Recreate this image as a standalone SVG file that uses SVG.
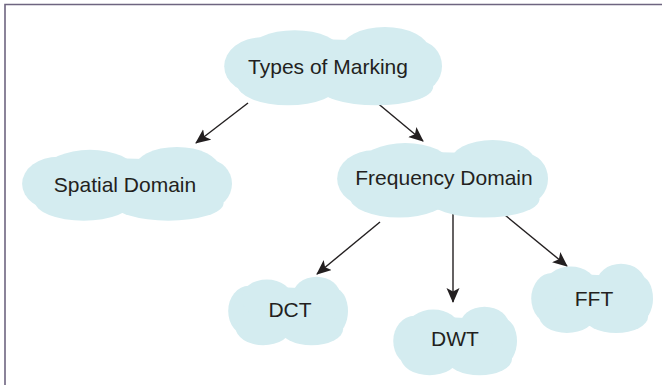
<svg xmlns="http://www.w3.org/2000/svg" xmlns:xlink="http://www.w3.org/1999/xlink" width="662" height="385" viewBox="0 0 662 385">
<style>
.cloud{fill:#d4ecf0}
.lbl{font-family:"Liberation Sans",Arial,sans-serif;font-size:21px;fill:#231f20;text-anchor:middle}
.conn{stroke:#231f20;stroke-width:1.4;fill:none}
.frame{stroke:#6e6580;stroke-width:1.6;fill:none}
</style>
<defs>
<g id="cloudShape">
<ellipse cx="100" cy="42" rx="92" ry="28"/>
<ellipse cx="36" cy="40" rx="34" ry="28"/>
<ellipse cx="66" cy="26" rx="42" ry="21"/>
<ellipse cx="148" cy="24" rx="40" ry="22"/>
<ellipse cx="178" cy="40" rx="22" ry="25"/>
<ellipse cx="60" cy="58" rx="46" ry="20"/>
<ellipse cx="140" cy="60" rx="52" ry="18"/>
</g>
<marker id="arr" markerUnits="userSpaceOnUse" markerWidth="16" markerHeight="14" refX="14" refY="6.5" orient="auto">
<path d="M0,0 L15,6.5 L0,13 L3.5,6.5 z" fill="#231f20"/>
</marker>
</defs>
<path class="frame" d="M5,385 L5,4.5 L662,4.5"/>
<g id="connectors">
<line class="conn" x1="248" y1="103" x2="196" y2="143" marker-end="url(#arr)"/>
<line class="conn" x1="375" y1="101" x2="423" y2="141" marker-end="url(#arr)"/>
<line class="conn" x1="380" y1="222" x2="317" y2="274" marker-end="url(#arr)"/>
<line class="conn" x1="453" y1="214" x2="453" y2="302" marker-end="url(#arr)"/>
<line class="conn" x1="500" y1="211" x2="567" y2="266" marker-end="url(#arr)"/>
</g>
<g id="types">
<use class="cloud" xlink:href="#cloudShape" href="#cloudShape" transform="translate(222,25) scale(1.1,1.03)"/>
<text class="lbl" x="328" y="74">Types of Marking</text>
</g>
<g id="spatial">
<use class="cloud" xlink:href="#cloudShape" href="#cloudShape" transform="translate(20,145) scale(1.06,0.97)"/>
<text class="lbl" x="125" y="192">Spatial Domain</text>
</g>
<g id="frequency">
<use class="cloud" xlink:href="#cloudShape" href="#cloudShape" transform="translate(335,138) scale(1.065,1.02)"/>
<text class="lbl" x="444" y="185">Frequency Domain</text>
</g>
<g id="dct">
<use class="cloud" xlink:href="#cloudShape" href="#cloudShape" transform="translate(227,275) scale(0.605,0.9)"/>
<text class="lbl" x="290" y="317">DCT</text>
</g>
<g id="dwt">
<use class="cloud" xlink:href="#cloudShape" href="#cloudShape" transform="translate(392,305) scale(0.625,0.9)"/>
<text class="lbl" x="455" y="346">DWT</text>
</g>
<g id="fft">
<use class="cloud" xlink:href="#cloudShape" href="#cloudShape" transform="translate(530,262) scale(0.615,0.91)"/>
<text class="lbl" x="594" y="306">FFT</text>
</g>
</svg>
